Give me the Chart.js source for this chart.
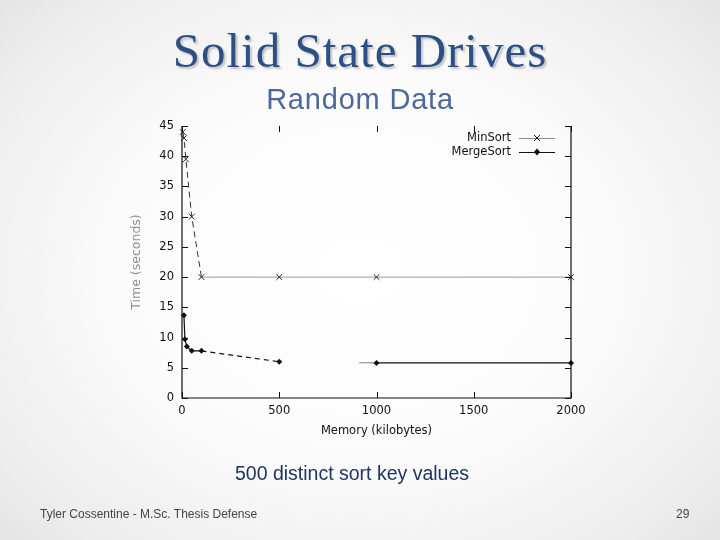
<!DOCTYPE html>
<html>
<head>
<meta charset="utf-8">
<script src="https://cdn.jsdelivr.net/npm/chart.js@4/dist/chart.umd.min.js"></script>
<style>
  html, body { margin:0; padding:0; }
  body {
    width:720px; height:540px; overflow:hidden; position:relative;
    background: radial-gradient(ellipse 75% 80% at 50% 50%, #ffffff 0%, #fbfbfb 45%, #ececec 80%, #dedede 100%);
    font-family: "Liberation Sans", Arial, sans-serif;
  }
  #c { position:absolute; left:0; top:0; }
  .t { position:absolute; white-space:nowrap; }
  #title { left:0; width:720px; text-align:center; top:22px; font-family:"Liberation Serif", "DejaVu Serif", serif; font-size:49px; letter-spacing:1px; color:#2c4f86; text-shadow: 2px 2px 2px rgba(0,0,0,0.22); }
  #sub { left:0; width:720px; text-align:center; top:83px; font-size:29px; letter-spacing:0.8px; color:#4b6a9b; }
  #note { left:0; width:704px; text-align:center; top:462px; font-size:19.5px; color:#1f3460; }
  #foot { left:40px; top:507px; font-size:12px; color:#444; }
  #page { left:676px; top:507px; font-size:12px; color:#444; }
</style>
</head>
<body>
<canvas id="c" width="720" height="540"></canvas>
<div class="t" id="title">Solid State Drives</div>
<div class="t" id="sub">Random Data</div>
<div class="t" id="note">500 distinct sort key values</div>
<div class="t" id="foot">Tyler Cossentine - M.Sc. Thesis Defense</div>
<div class="t" id="page">29</div>
<script>
// ---- data ----
const minSortMemory = [4, 10, 20, 50, 100, 500, 1000, 2000];
const minSortTime   = [44, 43, 39.5, 30, 20, 20, 20, 20];
const mergeSortMemory = [10, 15, 25, 50, 100, 500, 1000, 2000];
const mergeSortTime   = [13.7, 9.7, 8.5, 7.8, 7.8, 6.0, 5.8, 5.8];
const xTicks = [0, 500, 1000, 1500, 2000];
const yTicks = [0, 5, 10, 15, 20, 25, 30, 35, 40, 45];
const seriesNames = ["MinSort", "MergeSort"];
const xTitle = "Memory (kilobytes)";
const yTitle = "Time (seconds)";

const FONT = "DejaVu Sans";

function pts(xs, ys) { return xs.map((x, i) => ({x: x, y: ys[i]})); }

// gnuplot-like frame with inward ticks
const framePlugin = {
  id: 'frame',
  afterDatasetsDraw(chart) {
    const {ctx, chartArea: a, scales} = chart;
    ctx.save();
    ctx.strokeStyle = '#111';
    ctx.lineWidth = 1.2;
    ctx.beginPath();
    ctx.moveTo(a.left, a.top); ctx.lineTo(a.left, a.bottom); ctx.lineTo(a.right, a.bottom); ctx.lineTo(a.right, a.top);
    ctx.stroke();
    const L = 6;
    ctx.lineWidth = 1;
    ctx.beginPath();
    xTicks.forEach(v => {
      const px = Math.round(scales.x.getPixelForValue(v)) + 0.5;
      ctx.moveTo(px, a.bottom); ctx.lineTo(px, a.bottom - L);
      ctx.moveTo(px, a.top); ctx.lineTo(px, a.top + L);
    });
    yTicks.forEach(v => {
      const py = Math.round(scales.y.getPixelForValue(v)) + 0.5;
      ctx.moveTo(a.left, py); ctx.lineTo(a.left + L, py);
      ctx.moveTo(a.right, py); ctx.lineTo(a.right - L, py);
    });
    ctx.stroke();

    // legend, gnuplot style (top-right inside)
    ctx.font = '11.5px "' + FONT + '"';
    ctx.fillStyle = '#111';
    ctx.textAlign = 'right';
    ctx.textBaseline = 'middle';
    const lx = a.right - 60, ly = a.top + 12;
    chart.data.datasets.forEach((ds, i) => {
      const y = ly + i * 14;
      ctx.fillStyle = '#111';
      ctx.fillText(ds.label, lx, y);
      ctx.strokeStyle = ds.legendColor;
      ctx.lineWidth = 1;
      ctx.beginPath(); ctx.moveTo(lx + 8, y + 0.5); ctx.lineTo(lx + 44, y + 0.5); ctx.stroke();
      const mx = lx + 26;
      ctx.strokeStyle = '#111';
      if (ds.pointStyle === 'crossRot') {
        ctx.beginPath();
        ctx.moveTo(mx - 3, y - 3); ctx.lineTo(mx + 3, y + 3);
        ctx.moveTo(mx - 3, y + 3); ctx.lineTo(mx + 3, y - 3);
        ctx.stroke();
      } else {
        ctx.beginPath();
        ctx.moveTo(mx, y - 3.5); ctx.lineTo(mx + 3, y); ctx.lineTo(mx, y + 3.5); ctx.lineTo(mx - 3, y); ctx.closePath();
        ctx.fill();
      }
    });
    ctx.restore();
  }
};

new Chart(document.getElementById('c'), {
  type: 'line',
  data: {
    datasets: [
      {
        label: seriesNames[0],
        data: pts(minSortMemory, minSortTime),
        borderColor: '#8a8a8a',
        legendColor: '#8a8a8a',
        borderWidth: 1,
        pointStyle: 'crossRot',
        pointRadius: 4,
        pointBorderColor: '#222',
        pointBorderWidth: 1,
        tension: 0,
        clip: false,
        segment: {
          borderDash: c => c.p1DataIndex <= 4 ? [6, 4] : undefined,
          borderColor: c => c.p1DataIndex <= 4 ? '#333' : '#9a9a9a'
        }
      },
      {
        label: seriesNames[1],
        data: pts(mergeSortMemory, mergeSortTime),
        borderColor: '#111',
        legendColor: '#111',
        borderWidth: 1.2,
        pointStyle: 'rectRot',
        pointRadius: 3,
        pointBackgroundColor: '#111',
        pointBorderColor: '#111',
        pointBorderWidth: 0,
        tension: 0,
        clip: false,
        segment: {
          borderDash: c => c.p1DataIndex === 5 ? [5, 4] : (c.p1DataIndex === 6 ? [0, 80, 40] : undefined),
          borderColor: c => c.p1DataIndex === 6 ? '#888' : '#111'
        }
      }
    ]
  },
  options: {
    responsive: false,
    animation: false,
    layout: { padding: { left: 129, right: 149, top: 126, bottom: 102 } },
    plugins: { legend: { display: false }, tooltip: { enabled: false } },
    scales: {
      x: {
        type: 'linear', min: 0, max: 2000,
        afterBuildTicks: s => { s.ticks = xTicks.map(v => ({value: v})); },
        afterFit: s => { s.height = 40; },
        grid: { display: false, drawTicks: false },
        border: { display: false },
        ticks: { color: '#111', font: { family: FONT, size: 11.5 }, padding: 6, maxRotation: 0, callback: v => String(v) },
        title: { display: true, text: xTitle, color: '#111', font: { family: FONT, size: 11.5 }, padding: { top: 0, bottom: 0 } }
      },
      y: {
        type: 'linear', min: 0, max: 45,
        afterBuildTicks: s => { s.ticks = yTicks.map(v => ({value: v})); },
        afterFit: s => { s.width = 53; },
        grid: { display: false, drawTicks: false },
        border: { display: false },
        ticks: { color: '#111', font: { family: FONT, size: 11.5 }, padding: 8, callback: v => String(v) },
        title: { display: true, text: yTitle, color: '#8c8c8c', font: { family: FONT, size: 12.5 }, padding: { top: 0, bottom: 0 } }
      }
    }
  },
  plugins: [framePlugin]
});
</script>
</body>
</html>
